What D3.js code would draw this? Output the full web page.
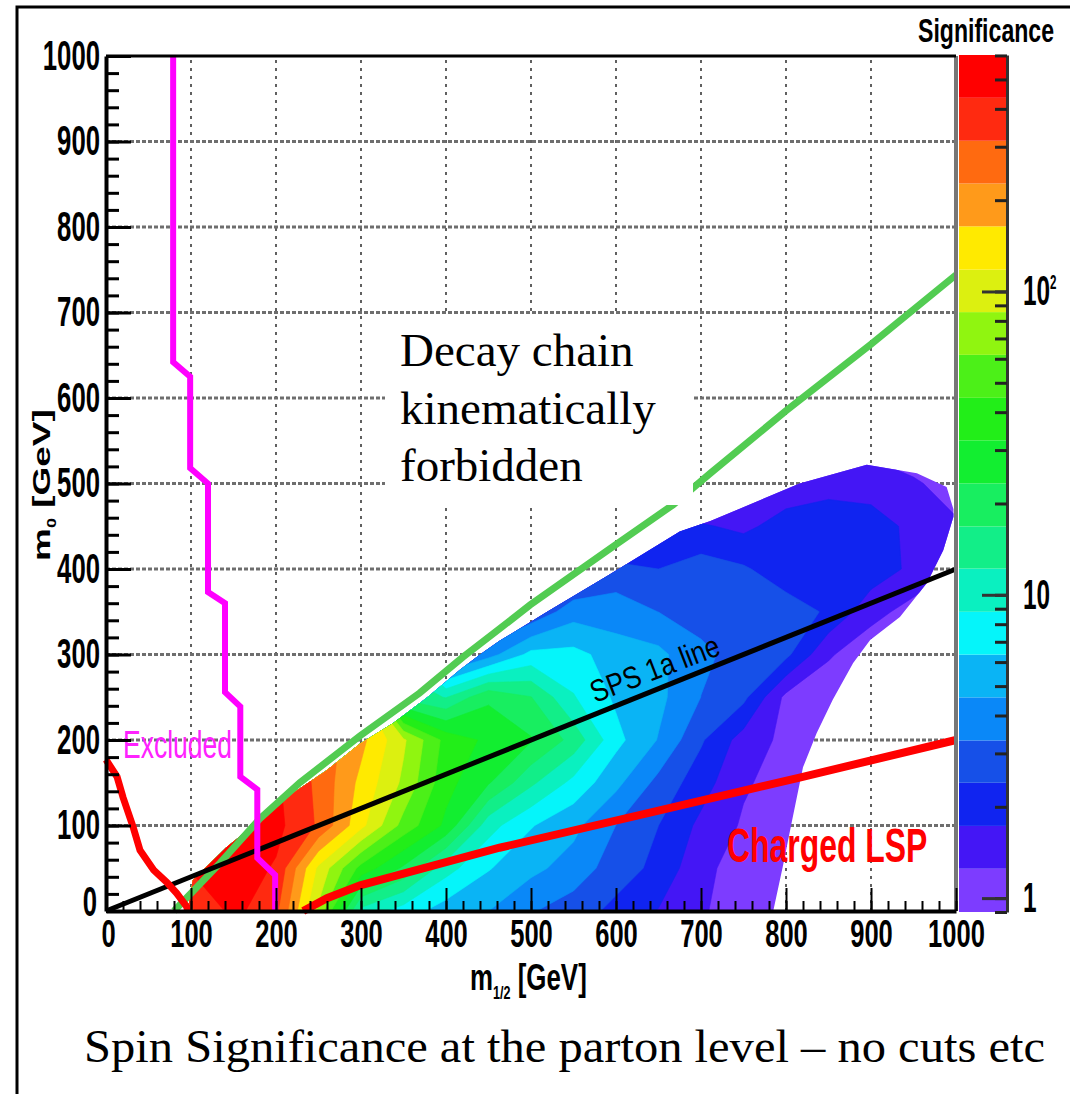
<!DOCTYPE html>
<html lang="en">
<head>
<meta charset="UTF-8">
<title>Spin significance</title>
<script src="https://d3js.org/d3.v7.min.js"></script>
<style>
  body { margin: 0; background: #fff; }
  svg text { font-family: "Liberation Sans", Arial, sans-serif; }
  svg .serif { font-family: "Liberation Serif", "Times New Roman", serif; }
</style>
</head>
<body>
<div id="chart"></div>
<script>
// map grid (GeV)
var mHalf = [100, 150, 200, 250, 300, 350, 400, 450, 500, 550, 600, 650, 700, 750, 800, 850, 900, 950, 1000];
var mZero = [0, 50, 100, 150, 200, 250, 300, 350, 400, 450, 500, 550];

// significance, one row per m0 value
var sig0   = [300, 480, 340, 80, 11, 7.5, 5.4, 4.6, 3.4, 2.8, 2.2, 1.7, 1.3, 1.05, 1.0, 0.95, 0.95, 0.95, 0.95];
var sig50  = [450, 520, 420, 110, 40, 22, 10, 6.5, 5.0, 4.0, 2.8, 2.2, 1.35, 1.1, 1.0, 0.95, 0.95, 0.95, 0.95];
var sig100 = [450, 500, 480, 300, 130, 55, 30, 10, 6.5, 5.0, 3.3, 2.4, 1.6, 1.2, 1.0, 0.95, 0.95, 0.95, 0.95];
var sig150 = [450, 480, 460, 290, 150, 80, 36, 24, 13, 8, 5.0, 3.0, 2.0, 1.3, 1.1, 0.95, 0.95, 0.95, 0.95];
var sig200 = [400, 400, 400, 280, 180, 90, 40, 30, 24, 15, 7, 4.5, 2.5, 1.5, 1.15, 1.0, 0.95, 0.95, 0.95];
var sig250 = [250, 250, 250, 250, 150, 15, 12, 22, 17, 9, 6, 5, 3.3, 2.6, 1.15, 1.0, 0.95, 0.95, 0.95];
var sig300 = [1, 1, 1, 1, 1, 10, 2.5, 4, 7, 7, 5.5, 5, 3.5, 3.0, 2.6, 1.3, 1.0, 0.95, 0.95];
var sig350 = [1, 1, 1, 1, 1, 1, 2, 2, 2.5, 4, 3.8, 3.3, 3.0, 2.8, 2.8, 2.3, 1.4, 1.1, 0.95];
var sig400 = [1, 1, 1, 1, 1, 1, 1, 1, 1, 2.0, 2.8, 2.4, 2.8, 2.5, 2.0, 2.0, 2.1, 1.6, 1.2];
var sig450 = [1, 1, 1, 1, 1, 1, 1, 1, 1, 1, 1, 1.6, 1.8, 1.6, 2.0, 2.2, 2.0, 1.6, 1.3];
var sig500 = [1, 1, 1, 1, 1, 1, 1, 1, 1, 1, 1, 1, 1, 1.3, 1.4, 1.5, 1.5, 1.3, 1.1];
var sig550 = [1, 1, 1, 1, 1, 1, 1, 1, 1, 1, 1, 1, 1, 1, 1.1, 1.1, 1.1, 1.0, 1.0];
var significance = [sig0, sig50, sig100, sig150, sig200, sig250, sig300, sig350, sig400, sig450, sig500, sig550];

// colour bands of the palette (lower edges, last value = top of the bar)
var levels = [0.9, 1.25, 1.73, 2.4, 3.31, 4.59, 6.35, 8.79, 12.2, 16.8, 23.3, 32.3, 44.6, 61.8, 85.5, 118, 164, 227, 314, 435, 602];
var bandColors = ["#7d3cff", "#4416f5", "#1024f0", "#1650e8", "#0a88f8", "#0ab4f5", "#05f5fa", "#0af0c0",
  "#12ee88", "#18ee60", "#12ee30", "#22ee18", "#4cf018", "#90f510", "#dcf010", "#ffea00",
  "#ff9a1a", "#ff6a10", "#ff2a10", "#ff0000"];

// outline of the filled area
var regionEdge = [[96, 0], [102, 36], [142, 75], [181, 106], [220, 138], [260, 165], [299, 196], [338, 220],
  [378, 250], [416, 282], [440, 300], [463, 316], [519, 350], [590, 392], [675, 444], [711, 456], [816, 500],
  [895, 522], [954, 512], [989, 496], [997, 470], [997, 461], [985, 422], [966, 384], [934, 344], [899, 317],
  [879, 290], [855, 247], [836, 208], [820, 168], [808, 110], [796, 51], [785, 0]];

// boundary lines
var kinematicLine = [[80, 0], [134, 56], [181, 108], [228, 150], [299, 205], [369, 255], [420, 297], [463, 330],
  [499, 358], [596, 426], [667, 475], [711, 512], [800, 585], [900, 663], [1000, 744]];
var sps1aLine = [[0, 0], [1000, 400]];
var chargedLspLine = [[232, 0], [260, 15], [299, 30], [463, 74], [640, 115], [816, 156], [1000, 200]];
var excludedCurve = [[0, 177], [13, 157], [20, 133], [32, 98], [40, 71], [56, 48], [72, 33], [83, 21], [95, 5], [96, 0]];
var excludedSteps = [[79, 1000], [79, 642], [99, 625], [99, 518], [120, 500], [120, 373], [140, 360], [140, 256],
  [158, 239], [158, 157], [178, 142], [178, 62], [199, 42], [199, 0]];

var xTicks = [0, 100, 200, 300, 400, 500, 600, 700, 800, 900, 1000];
var yTicks = [0, 100, 200, 300, 400, 500, 600, 700, 800, 900, 1000];
var zTicks = [1, 10, 100];

var svg = d3.select("#chart").append("svg").attr("width", 1070).attr("height", 1094);

var x = d3.scaleLinear().domain([0, 1000]).range([106, 956]);
var y = d3.scaleLinear().domain([0, 1000]).range([911, 56]);
var z = d3.scaleLog().domain([levels[0], levels[levels.length - 1]]).range([912, 55]);

// slide frame
svg.append("path").attr("d", "M17,1100V7H1080").attr("fill", "none").attr("stroke", "#000").attr("stroke-width", 3);

// grid
svg.append("g").selectAll("line").data(xTicks.slice(1, -1)).join("line")
  .attr("x1", d => x(d)).attr("x2", d => x(d)).attr("y1", y(0)).attr("y2", y(1000))
  .attr("stroke", "#3a3a3a").attr("stroke-width", 1.6).attr("stroke-dasharray", "3,5");
svg.append("g").selectAll("line").data(yTicks.slice(1, -1)).join("line")
  .attr("x1", x(0)).attr("x2", x(1000)).attr("y1", d => y(d)).attr("y2", d => y(d))
  .attr("stroke", "#6e6e6e").attr("stroke-width", 3).attr("stroke-dasharray", "4,2");

// significance map
var logValues = [];
significance.forEach(row => row.forEach(v => logValues.push(Math.log10(v))));
var contours = d3.contours()
  .size([mHalf.length, mZero.length])
  .thresholds(levels.slice(0, -1).map(Math.log10))(logValues);
var step = mHalf[1] - mHalf[0];
var toScreen = d3.geoTransform({
  point: function (gx, gy) {
    this.stream.point(x(mHalf[0] + (gx - 0.5) * step), y(mZero[0] + (gy - 0.5) * step));
  }
});
var geo = d3.geoPath(toScreen);
var line = d3.line().x(d => x(d[0])).y(d => y(d[1]));

svg.append("clipPath").attr("id", "region").append("path").attr("d", line(regionEdge) + "Z");
svg.append("g").attr("clip-path", "url(#region)")
  .selectAll("path").data(contours).join("path")
  .attr("d", geo)
  .attr("fill", (d, i) => bandColors[i])
  .attr("stroke", (d, i) => bandColors[i])
  .attr("stroke-width", 0.6);

// lines
svg.append("path").datum(kinematicLine).attr("d", line).attr("fill", "none")
  .attr("stroke", "#52cc52").attr("stroke-width", 7);
svg.append("path").datum(sps1aLine).attr("d", line).attr("fill", "none")
  .attr("stroke", "#000").attr("stroke-width", 5);
svg.append("path").datum(chargedLspLine).attr("d", line).attr("fill", "none")
  .attr("stroke", "#ff0000").attr("stroke-width", 8);
svg.append("path").datum(excludedCurve).attr("d", line).attr("fill", "none")
  .attr("stroke", "#ff0000").attr("stroke-width", 7);
svg.append("path").datum(excludedSteps).attr("d", line).attr("fill", "none")
  .attr("stroke", "#ff00ff").attr("stroke-width", 6);

// labels inside the plot (the original figure is squeezed sideways)
svg.append("text").attr("transform", "translate(123,758) scale(0.68,1)").attr("font-size", 39)
  .attr("fill", "#ff22ff").text("Excluded");
svg.append("text").attr("transform", "translate(727,862) scale(0.665,1)").attr("font-size", 48)
  .attr("font-weight", "bold").attr("fill", "#ff0000").text("Charged LSP");
svg.append("text").attr("transform", "translate(595,703) rotate(-21)").attr("font-size", 31)
  .attr("textLength", 136).attr("lengthAdjust", "spacingAndGlyphs").text("SPS 1a line");

// pasted note
svg.append("rect").attr("x", 385).attr("y", 316).attr("width", 308).attr("height", 189).attr("fill", "#fff");
var note = svg.append("text").attr("class", "serif").attr("font-size", 47).attr("fill", "#000");
["Decay chain", "kinematically", "forbidden"].forEach(function (s, i) {
  note.append("tspan").attr("x", 400).attr("y", 366 + i * 57.5).text(s);
});

// frame
svg.append("line").attr("x1", x(1000)).attr("x2", x(1000)).attr("y1", y(0)).attr("y2", y(1000))
  .attr("stroke", "#777").attr("stroke-width", 4);
svg.append("line").attr("x1", x(0)).attr("x2", x(1000)).attr("y1", y(1000)).attr("y2", y(1000))
  .attr("stroke", "#000").attr("stroke-width", 3);

function squeeze(g, size, perChar) {
  g.selectAll(".tick text")
    .attr("font-size", size).attr("font-weight", "bold").attr("fill", "#000")
    .attr("textLength", function () { return this.textContent.length * perChar; })
    .attr("lengthAdjust", "spacingAndGlyphs");
}

// x axis
var xg = svg.append("g").attr("transform", "translate(0," + y(0) + ")");
xg.append("g").call(d3.axisBottom(x).ticks(50).tickSize(-10).tickSizeOuter(0).tickFormat(""))
  .call(g => g.select(".domain").remove())
  .call(g => g.selectAll("line").attr("stroke-width", 2));
xg.append("g").call(d3.axisBottom(x).tickValues(xTicks).tickSize(-23).tickSizeOuter(0).tickPadding(8)
    .tickFormat(d3.format("d")))
  .call(g => g.select(".domain").attr("stroke-width", 4))
  .call(g => g.selectAll("line").attr("stroke-width", 2))
  .call(g => squeeze(g, 39, 14.2))
  .call(g => g.selectAll(".tick text").filter(d => d === 0).attr("x", 2));

// y axis
var yg = svg.append("g").attr("transform", "translate(" + x(0) + ",0)");
yg.append("g").call(d3.axisLeft(y).ticks(50).tickSize(-13).tickSizeOuter(0).tickFormat(""))
  .call(g => g.select(".domain").remove())
  .call(g => g.selectAll("line").attr("stroke-width", 3));
yg.append("g").call(d3.axisLeft(y).tickValues(yTicks).tickSize(-25).tickSizeOuter(0).tickPadding(6)
    .tickFormat(d3.format("d")))
  .call(g => g.select(".domain").attr("stroke-width", 4))
  .call(g => g.selectAll("line").attr("stroke-width", 3))
  .call(g => squeeze(g, 42, 14.3))
  .call(g => g.selectAll(".tick text").filter(d => d === 0).attr("x", -9).attr("dy", "0.1em"));

// axis titles
var xt = svg.append("text").attr("transform", "translate(470,990) scale(0.7,1)")
  .attr("font-size", 37).attr("font-weight", "bold");
xt.append("tspan").text("m");
xt.append("tspan").attr("font-size", 18).attr("dy", 9).text("1/2");
xt.append("tspan").attr("dy", -9).text(" [GeV]");

var yt = svg.append("text").attr("transform", "translate(50,561) scale(0.66,1) rotate(-90)")
  .attr("font-size", 37).attr("font-weight", "bold");
yt.append("tspan").text("m");
yt.append("tspan").attr("font-size", 18).attr("dy", 9).text("0");
yt.append("tspan").attr("dy", -9).text(" [GeV]");

// colour bar
svg.append("g").selectAll("rect").data(bandColors).join("rect")
  .attr("x", 959).attr("width", 48)
  .attr("y", (d, i) => z(levels[i + 1]))
  .attr("height", (d, i) => z(levels[i]) - z(levels[i + 1]))
  .attr("fill", d => d);

var zg = svg.append("g").attr("transform", "translate(1007,0)");
zg.append("g").call(d3.axisRight(z).ticks(10).tickSize(-12).tickSizeOuter(0).tickFormat(""))
  .call(g => g.select(".domain").attr("stroke", "#333").attr("stroke-width", 3))
  .call(g => g.selectAll("line").attr("stroke", "#222").attr("stroke-width", 3));
zg.append("g").call(d3.axisRight(z).tickValues(zTicks).tickSize(-25).tickSizeOuter(0).tickPadding(16)
    .tickFormat(d => d === 100 ? "10" : String(d)))
  .call(g => g.select(".domain").remove())
  .call(g => g.selectAll("line").attr("stroke", "#333").attr("stroke-width", 3))
  .call(g => g.selectAll(".tick text")
    .attr("font-size", 42).attr("font-weight", "bold").attr("fill", "#000")
    .attr("transform", "scale(0.58,1)").attr("x", 16 / 0.58))
  .call(g => g.selectAll(".tick text").filter(d => d === 100)
    .append("tspan").attr("dy", "-0.8em").attr("font-size", 20).text("2"));

svg.append("text").attr("transform", "translate(918,42) scale(0.7,1)")
  .attr("font-size", 33).attr("font-weight", "bold").text("Significance");

// caption
svg.append("text").attr("class", "serif").attr("x", 84).attr("y", 1062).attr("font-size", 47)
  .attr("textLength", 961).attr("lengthAdjust", "spacingAndGlyphs")
  .text("Spin Significance at the parton level \u2013 no cuts etc");
</script>
</body>
</html>
